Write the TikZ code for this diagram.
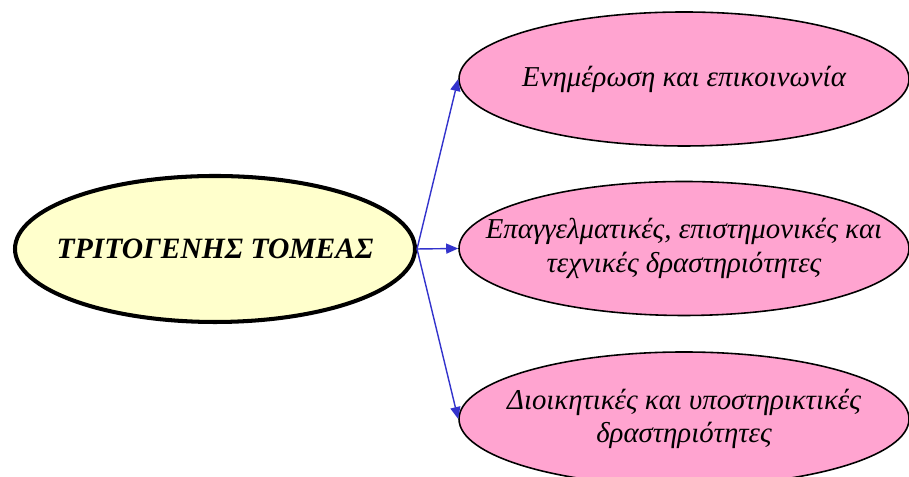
\documentclass[tikz,border=0pt]{standalone}
\usepackage{fontspec}
\setmainfont{Liberation Serif}
\usetikzlibrary{arrows.meta,shapes.geometric}

\definecolor{paleyellow}{RGB}{255,255,204}
\definecolor{softpink}{RGB}{255,164,208}
\definecolor{linkblue}{RGB}{51,51,204}

\begin{document}
\begin{tikzpicture}[
  main/.style={
    ellipse,
    draw,
    fill=paleyellow,
    line width=1.15pt,
    minimum width=4.0cm,
    minimum height=1.46cm,
    inner sep=0pt
  },
  branch/.style={
    ellipse,
    draw,
    fill=softpink,
    line width=0.45pt,
    minimum width=4.5cm,
    minimum height=1.34cm,
    inner sep=0pt
  },
  maintext/.style={
    font=\fontsize{8.4}{10}\selectfont\bfseries\itshape
  },
  branchtext/.style={
    align=center,
    font=\fontsize{8.2}{9.6}\selectfont\itshape
  },
  link/.style={
    -{Triangle[length=1.2mm,width=1.0mm]},
    draw=linkblue,
    fill=linkblue,
    line width=0.4pt
  }
]

\clip (0,0) rectangle (9.09,4.77);

\node[main, label={[maintext]center:ΤΡΙΤΟΓΕΝΗΣ ΤΟΜΕΑΣ}] (sector) at (2.15,2.28) {};

\node[branch, label={[branchtext]center:Ενημέρωση και επικοινωνία}]
  (info) at (6.84,3.98) {};
\node[branch, label={[branchtext]center:Επαγγελματικές, επιστημονικές και\\τεχνικές δραστηριότητες}]
  (prof) at (6.84,2.285) {};
\node[branch, label={[branchtext]center:Διοικητικές και υποστηρικτικές\\δραστηριότητες}]
  (admin) at (6.84,0.58) {};

\draw[link] (sector.east) -- (info.west);
\draw[link] (sector.east) -- (prof.west);
\draw[link] (sector.east) -- (admin.west);

\end{tikzpicture}
\end{document}
